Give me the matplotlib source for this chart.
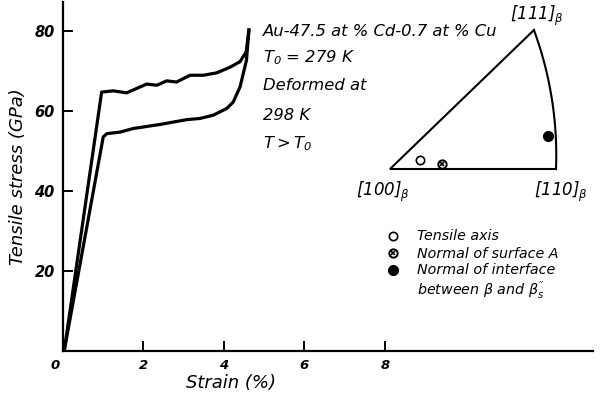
import numpy as np
import matplotlib
matplotlib.use("Agg")
import matplotlib.pyplot as plt
from matplotlib.transforms import ScaledTranslation

# ---------------- data ----------------
strain_upper = [0.03, 0.96, 1.25, 1.58, 1.83, 2.08, 2.33, 2.58, 2.82, 3.16, 3.49, 3.82, 4.15, 4.40, 4.55, 4.62]
stress_upper = [0.0, 64.7, 65.0, 64.5, 65.6, 66.7, 66.4, 67.5, 67.2, 68.9, 68.9, 69.5, 70.9, 72.3, 74.7, 80.2]
strain_lower = [0.03, 1.00, 1.09, 1.42, 1.75, 2.08, 2.41, 2.74, 3.07, 3.40, 3.73, 4.07, 4.23, 4.40, 4.56, 4.62]
stress_lower = [0.0, 53.5, 54.3, 54.7, 55.6, 56.1, 56.6, 57.2, 57.8, 58.1, 58.9, 60.6, 62.2, 66.0, 72.7, 80.2]

x_ticks = [0, 2, 4, 6, 8]
y_ticks = [20, 40, 60, 80]

# stereographic triangle (normalised projection coordinates)
tri_labels = ["[100]", "[110]", "[111]"]
tri_x = [0.0, 1.0, 0.867]
tri_y = [0.0, 0.0, 0.837]
arc_mid = (0.976, 0.416)   # point on the [110]-[111] great-circle arc

pt_tensile = (0.181, 0.054)
pt_surface = (0.313, 0.030)
pt_interface = (0.952, 0.199)

info_lines = ["Au-47.5 at % Cd-0.7 at % Cu", r"$T_0$ = 279 K", "Deformed at", "298 K", r"$T > T_0$"]
legend_labels = ["Tensile axis", "Normal of surface A",
                 "Normal of interface\n" + r"between $\beta$ and $\beta^{\prime\prime}_{s}$"]

# ---------------- fonts ----------------
plt.rcParams["font.family"] = ["DejaVu Sans"]
plt.rcParams["font.style"] = "italic"
plt.rcParams["mathtext.fontset"] = "custom"
plt.rcParams["mathtext.it"] = "DejaVu Sans:italic"
plt.rcParams["mathtext.rm"] = "DejaVu Sans:italic"
plt.rcParams["mathtext.bf"] = "DejaVu Sans:italic:bold"

W, H = 608, 398
fig = plt.figure(figsize=(W / 100, H / 100), dpi=100)

def fx(px):
    return px / W

def fy(py):
    return 1 - py / H

# ---------------- main axes ----------------
ax = fig.add_axes([fx(63), fy(351), (593 - 63) / W, (351 - 2) / H])
ax.plot(strain_upper, stress_upper, color="black", lw=2.3, solid_joinstyle="round")
ax.plot(strain_lower, stress_lower, color="black", lw=2.3, solid_joinstyle="round")
ax.set_xlim(0, 13.17)
ax.set_ylim(0, 87.2)
for s in ["top", "right"]:
    ax.spines[s].set_visible(False)
for s in ["left", "bottom"]:
    ax.spines[s].set_linewidth(1.6)
ax.set_xticks(x_ticks)
ax.set_xticklabels([str(v) for v in x_ticks])
ax.set_yticks(y_ticks)
ax.set_yticklabels([str(v) for v in y_ticks])
ax.tick_params(direction="in", length=7.5, width=1.4, pad=6)
for lab in ax.get_xticklabels():
    lab.set_fontweight("bold")
    lab.set_fontsize(9.5)
    lab.set_fontstyle("italic")
for lab in ax.get_yticklabels():
    lab.set_fontweight("bold")
    lab.set_fontsize(10.5)
    lab.set_fontstyle("italic")
zero_lab = ax.get_xticklabels()[0]
zero_lab.set_transform(zero_lab.get_transform() + ScaledTranslation(-8 / 100, 0, fig.dpi_scale_trans))

fig.text(fx(18), fy(177), "Tensile stress (GPa)", rotation=90, ha="center", va="center", fontsize=13)
fig.text(fx(231), fy(383), "Strain (%)", ha="center", va="center", fontsize=13)

# info text
info_y = [31, 58, 85, 115, 144]
for t, yy in zip(info_lines, info_y):
    fig.text(fx(263), fy(yy), t, ha="left", va="center", fontsize=11.8)

# ---------------- triangle inset ----------------
tax = fig.add_axes([fx(390), fy(169), 166 / W, 166 / H])
tax.set_xlim(0, 1)
tax.set_ylim(0, 1)
tax.axis("off")
tax.plot([tri_x[2], tri_x[0], tri_x[1]], [tri_y[2], tri_y[0], tri_y[1]], color="black", lw=1.5,
         clip_on=False, solid_joinstyle="miter")
p1 = np.array([tri_x[1], tri_y[1]])
p2 = np.array(arc_mid)
p3 = np.array([tri_x[2], tri_y[2]])
A = 2 * np.array([p2 - p1, p3 - p1])
b = np.array([p2 @ p2 - p1 @ p1, p3 @ p3 - p1 @ p1])
c = np.linalg.solve(A, b)
r = np.linalg.norm(p1 - c)
a1 = np.arctan2(*(p1 - c)[::-1])
a3 = np.arctan2(*(p3 - c)[::-1])
th = np.linspace(a1, a3, 60)
tax.plot(c[0] + r * np.cos(th), c[1] + r * np.sin(th), color="black", lw=1.5, clip_on=False)

tax.plot(*pt_tensile, marker="o", ms=6, mfc="white", mec="black", mew=1.2, clip_on=False)
tax.plot(*pt_surface, marker="o", ms=6, mfc="white", mec="black", mew=1.4, clip_on=False)
tax.plot(*pt_surface, marker="x", ms=3.5, mec="black", mew=1.2, clip_on=False)
tax.plot(*pt_interface, marker="o", ms=7, mfc="black", mec="black", clip_on=False)

lab_off = [(-0.04, -0.14), (0.03, -0.14), (0.02, 0.085)]
for i, name in enumerate(tri_labels):
    tax.text(tri_x[i] + lab_off[i][0], tri_y[i] + lab_off[i][1], name + r"$_{\beta}$",
             ha="center", va="center", fontsize=12, clip_on=False)

# ---------------- legend (manual) ----------------
ov = fig.add_axes([0, 0, 1, 1])
ov.set_xlim(0, W)
ov.set_ylim(H, 0)
ov.axis("off")
leg_y = [236, 253, 270]
ov.plot(393, leg_y[0], marker="o", ms=6, mfc="white", mec="black", mew=1.2)
ov.plot(393, leg_y[1], marker="o", ms=6, mfc="white", mec="black", mew=1.4)
ov.plot(393, leg_y[1], marker="x", ms=3.5, mec="black", mew=1.2)
ov.plot(393, leg_y[2], marker="o", ms=7, mfc="black", mec="black")
for t, yy in zip(legend_labels, leg_y):
    ov.text(417, yy - 6.5, t, ha="left", va="top", fontsize=10.3, linespacing=1.15)

fig.savefig("out.png", dpi=100)
